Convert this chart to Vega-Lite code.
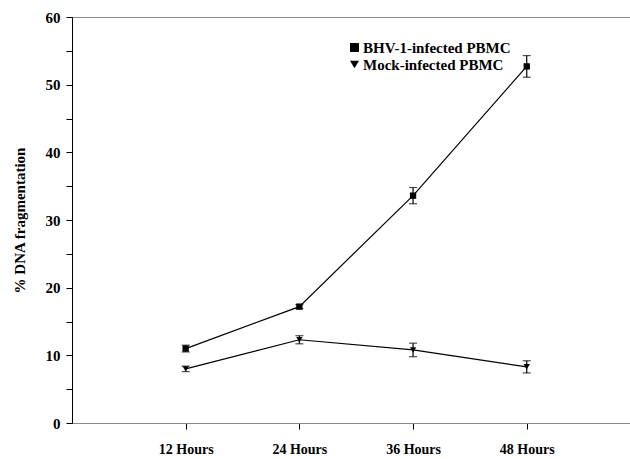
{
  "$schema": "https://vega.github.io/schema/vega-lite/v6.json",
  "autosize": "none",
  "padding": {"left": 72, "top": 17, "right": 0, "bottom": 36},
  "width": 558,
  "height": 406,
  "config": {
    "view": {"stroke": "#8a8a8a", "strokeWidth": 1},
    "font": "Liberation Serif"
  },
  "data": {
    "values": [
      {"hours": 12, "group": "BHV-1-infected PBMC", "value": 11.0, "err": 0.5},
      {"hours": 24, "group": "BHV-1-infected PBMC", "value": 17.2, "err": 0.3},
      {"hours": 36, "group": "BHV-1-infected PBMC", "value": 33.6, "err": 1.2},
      {"hours": 48, "group": "BHV-1-infected PBMC", "value": 52.7, "err": 1.6},
      {"hours": 12, "group": "Mock-infected PBMC", "value": 8.0, "err": 0.4},
      {"hours": 24, "group": "Mock-infected PBMC", "value": 12.3, "err": 0.6},
      {"hours": 36, "group": "Mock-infected PBMC", "value": 10.8, "err": 1.0},
      {"hours": 48, "group": "Mock-infected PBMC", "value": 8.3, "err": 0.9}
    ]
  },
  "encoding": {
    "x": {
      "field": "hours", "type": "quantitative",
      "scale": {"domain": [0, 58.9], "nice": false, "zero": false},
      "axis": {
        "values": [12, 24, 36, 48],
        "labelExpr": "datum.value + ' Hours'",
        "title": null, "grid": false,
        "domainColor": "#8a8a8a", "tickColor": "#000", "tickSize": 6,
        "labelFont": "Liberation Serif", "labelFontWeight": "bold", "labelFontSize": 14,
        "labelColor": "#000", "labelPadding": 13
      }
    },
    "y": {
      "field": "value", "type": "quantitative",
      "scale": {"domain": [0, 60], "nice": false},
      "axis": {
        "values": [0, 5, 10, 15, 20, 25, 30, 35, 40, 45, 50, 55, 60],
        "labelExpr": "datum.value % 10 == 0 ? datum.label : ''",
        "title": "% DNA fragmentation", "grid": false,
        "domainColor": "#000", "tickColor": "#000", "tickSize": 6,
        "labelFont": "Liberation Serif", "labelFontWeight": "bold", "labelFontSize": 15,
        "labelColor": "#000", "labelPadding": 6,
        "titleFont": "Liberation Serif", "titleFontWeight": "bold", "titleFontSize": 15,
        "titleColor": "#000", "titlePadding": 18
      }
    }
  },
  "layer": [
    {
      "mark": {"type": "line", "color": "#000", "strokeWidth": 1.2},
      "encoding": {"detail": {"field": "group"}}
    },
    {
      "mark": {"type": "errorbar", "ticks": {"size": 8, "color": "#000"}, "color": "#000", "thickness": 1.2},
      "encoding": {
        "y": {"field": "value", "type": "quantitative"},
        "yError": {"field": "err"},
        "detail": {"field": "group"}
      }
    },
    {
      "mark": {"type": "point", "filled": true, "opacity": 1, "color": "#000"},
      "encoding": {
        "shape": {
          "field": "group", "type": "nominal",
          "scale": {"domain": ["BHV-1-infected PBMC", "Mock-infected PBMC"], "range": ["square", "triangle-down"]},
          "legend": {
            "orient": "none", "legendX": 275, "legendY": 23, "title": null,
            "labelFont": "Liberation Serif", "labelFontWeight": "bold", "labelFontSize": 15,
            "labelColor": "#000", "symbolFillColor": "#000", "symbolStrokeColor": "#000",
            "symbolSize": 80, "rowPadding": 1, "labelOffset": 1
          }
        },
        "size": {"value": 40}
      }
    }
  ]
}
